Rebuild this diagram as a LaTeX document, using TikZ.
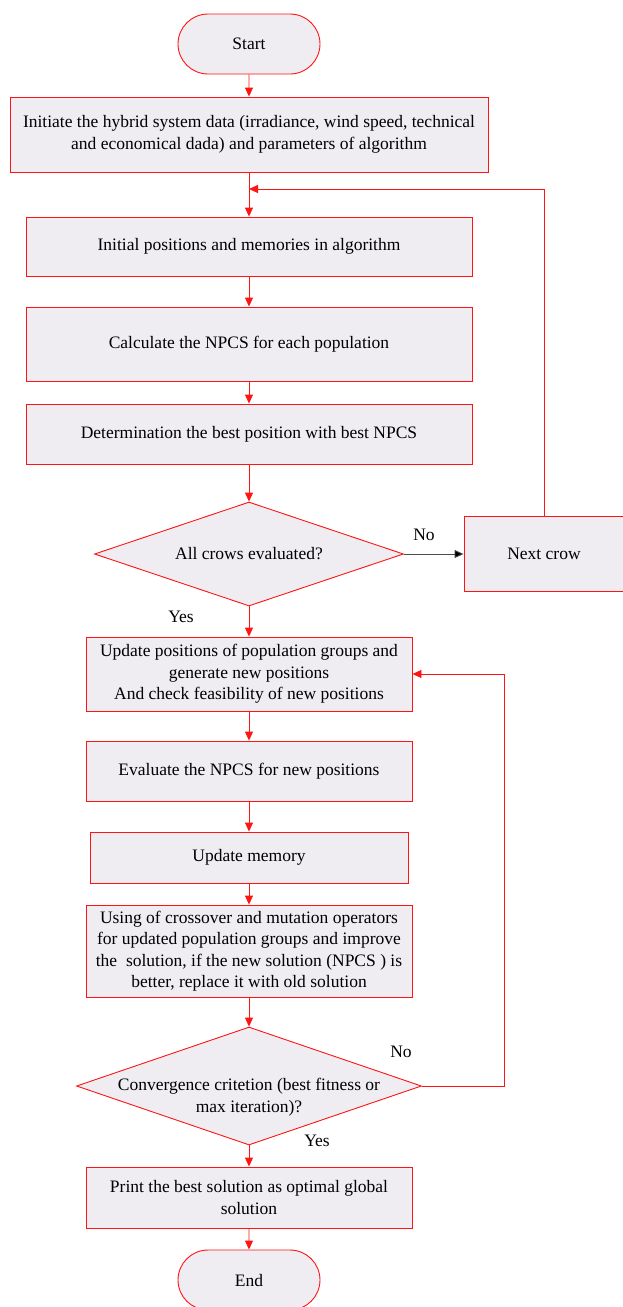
\documentclass[tikz,border=0pt]{standalone}
\usepackage{fontspec}
\setmainfont{Liberation Serif}
\usetikzlibrary{positioning,shapes.geometric,shapes.misc,arrows.meta}

\definecolor{boxfill}{RGB}{239,237,242}
\definecolor{linered}{RGB}{255,20,20}

\tikzset{
	every node/.style={font=\fontsize{17.5}{21.5}\selectfont},
	box/.style={draw=linered, fill=boxfill, line width=0.9pt, align=center, inner sep=0pt},
	term/.style={draw=linered, fill=boxfill, line width=0.9pt, rounded rectangle, minimum width=142pt, minimum height=60pt, inner sep=0pt},
	decision/.style={draw=linered, fill=boxfill, line width=0.9pt, diamond, align=center, shape aspect=3, inner sep=0pt},
	flow/.style={draw=linered, line width=0.9pt, -{Triangle[length=9pt,width=8pt]}},
	noflow/.style={draw=black!70, line width=0.9pt, -{Triangle[length=9pt,width=8pt,fill=black]}},
}

\begin{document}
\begin{tikzpicture}[x=1pt, y=-1pt]
		\useasboundingbox (0,0) rectangle (623,1307);
		\node[term] (start) at (249,44) {Start};
		\node[box, minimum width=478pt, minimum height=75pt] (init) at (249,134.5) {Initiate the hybrid system data (irradiance, wind speed, technical\\and economical dada) and parameters of algorithm};
		\node[box, minimum width=446pt, minimum height=59pt] (initpos) at (249,246.5) {Initial positions and memories in algorithm};
		\node[box, minimum width=446pt, minimum height=74pt] (calc) at (249,344) {Calculate the NPCS for each population};
		\node[box, minimum width=446pt, minimum height=60pt] (best) at (249,434) {Determination the best position with best NPCS};
		\node[decision, minimum width=309pt, minimum height=104pt] (allcrows) at (249,554) {All crows evaluated?};
		\node[box, minimum width=160pt, minimum height=75pt] (nextcrow) at (544,554) {Next crow};
		\node[box, minimum width=326pt, minimum height=74pt] (update) at (249,674) {Update positions of population groups and\\generate new positions\\And check feasibility of new positions};
		\node[box, minimum width=326pt, minimum height=60pt] (evaluate) at (249,771) {Evaluate the NPCS for new positions};
		\node[box, minimum width=318pt, minimum height=51pt] (memory) at (249,857.5) {Update memory};
		\node[box, minimum width=326pt, minimum height=92pt] (cross) at (249,951) {Using of crossover and mutation operators\\for updated population groups and improve\\the\ \ solution, if the new solution (NPCS ) is\\better, replace it with old solution};
		\node[decision, shape aspect=2.92, inner xsep=-20pt, inner ysep=-12pt, minimum width=345pt, minimum height=118pt] (converge) at (249,1086) {\rule{0pt}{35pt}Convergence critetion (best fitness or\\max iteration)?};
		\node[box, minimum width=326pt, minimum height=61pt] (print) at (249,1197.5) {Print the best solution as optimal global\\solution};
		\node[term] (end) at (249,1280) {End};

		\node (no1) at (424,535) {No};
		\node (yes1) at (181,617) {Yes};
		\node (no2) at (401,1052) {No};
		\node (yes2) at (317,1141) {Yes};

		\coordinate (join1) at (249,189);
		\coordinate (turn2) at (504,1086);

		\draw[flow] (start) -- (init);
		\draw[flow] (init) -- (initpos);
		\draw[flow] (initpos) -- (calc);
		\draw[flow] (calc) -- (best);
		\draw[flow] (best) -- (allcrows);
		\draw[noflow] (allcrows.east) -- (nextcrow.west);
		\draw[flow] (nextcrow.north) |- (join1);
		\draw[flow] (allcrows) -- (update);
		\draw[flow] (update) -- (evaluate);
		\draw[flow] (evaluate) -- (memory);
		\draw[flow] (memory) -- (cross);
		\draw[flow] (cross) -- (converge);
		\draw[flow] (converge.east) -- (turn2) |- (update.east);
		\draw[flow] (converge) -- (print);
		\draw[flow] (print) -- (end);
	\end{tikzpicture}
\end{document}
